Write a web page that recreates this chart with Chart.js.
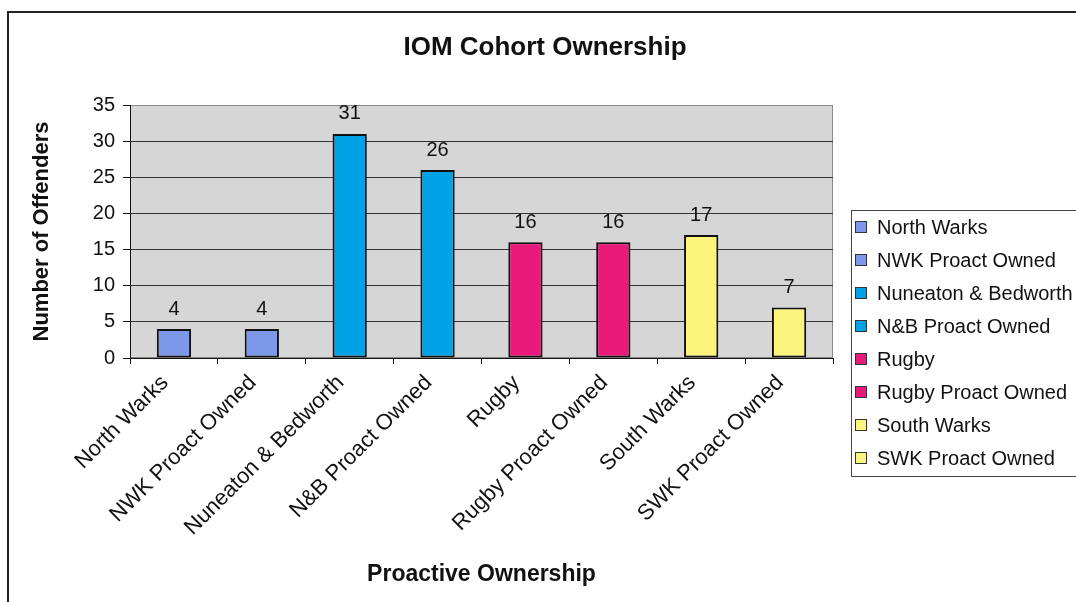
<!DOCTYPE html>
<html>
<head>
<meta charset="utf-8">
<script src="https://cdn.jsdelivr.net/npm/chart.js@4/dist/chart.umd.min.js"></script>
<style>
  html, body { margin: 0; padding: 0; background: #fff; }
  #wrap { width: 1076px; height: 602px; }
</style>
</head>
<body>
<div id="wrap"><canvas id="grafico"></canvas></div>
<script>
// ------------------------------------------------
// Dados
// ------------------------------------------------
const CATEGORIAS = [
    'North Warks', 'NWK Proact Owned', 'Nuneaton & Bedworth', 'N&B Proact Owned',
    'Rugby', 'Rugby Proact Owned', 'South Warks', 'SWK Proact Owned'
];
const VALORES = [4, 4, 31, 26, 16, 16, 17, 7];
const CORES = [
    '#7d98ea', '#7d98ea', '#00a2e6', '#00a2e6',
    '#ea1a7a', '#ea1a7a', '#fbf57e', '#fbf57e'
];
const TITULO = 'IOM Cohort Ownership';
const TITULO_Y = 'Number of Offenders';
const TITULO_X = 'Proactive Ownership';

const FONTE = "'Liberation Sans', Arial, sans-serif";

// ------------------------------------------------
// Moldura, fundo cinza e título
// ------------------------------------------------
const pluginFundo = {
    id: 'fundo',
    beforeDraw(chart) {
        const { ctx, chartArea: a } = chart;
        ctx.save();
        ctx.fillStyle = '#d6d6d6';
        ctx.fillRect(a.left, a.top, a.right - a.left, a.bottom - a.top);
        ctx.strokeStyle = '#8a8a8a';
        ctx.lineWidth = 1;
        ctx.strokeRect(a.left + 0.5, a.top + 0.5, a.right - a.left - 1, a.bottom - a.top - 1);
        // moldura externa
        ctx.strokeStyle = '#222';
        ctx.lineWidth = 2;
        ctx.beginPath();
        ctx.moveTo(8, 602);
        ctx.lineTo(8, 12);
        ctx.lineTo(1076, 12);
        ctx.stroke();
        ctx.restore();
    },
    afterDraw(chart) {
        const { ctx } = chart;
        ctx.save();
        ctx.fillStyle = '#111';
        ctx.font = `bold 26px ${FONTE}`;
        ctx.textAlign = 'center';
        ctx.textBaseline = 'middle';
        ctx.fillText(TITULO, 545, 48);
        ctx.restore();
    }
};

// ------------------------------------------------
// Valores acima das barras
// ------------------------------------------------
const pluginRotulos = {
    id: 'rotulos',
    afterDatasetsDraw(chart) {
        const { ctx } = chart;
        const meta = chart.getDatasetMeta(0);
        ctx.save();
        ctx.fillStyle = '#111';
        ctx.font = `20px ${FONTE}`;
        ctx.textAlign = 'center';
        ctx.textBaseline = 'bottom';
        meta.data.forEach((bar, i) => {
            ctx.fillText(String(VALORES[i]), bar.x, bar.y - 10);
        });
        ctx.restore();
    }
};

// ------------------------------------------------
// Legenda com caixa à direita
// ------------------------------------------------
const pluginLegenda = {
    id: 'legendaCaixa',
    afterDraw(chart) {
        const { ctx } = chart;
        ctx.save();
        ctx.strokeStyle = '#444';
        ctx.lineWidth = 1;
        ctx.strokeRect(851.5, 210.5, 240, 266);
        ctx.font = `20px ${FONTE}`;
        ctx.textAlign = 'left';
        ctx.textBaseline = 'middle';
        CATEGORIAS.forEach((nome, i) => {
            const y = 227 + i * 33;
            ctx.fillStyle = CORES[i];
            ctx.fillRect(855, y - 6, 12, 12);
            ctx.strokeStyle = '#333';
            ctx.strokeRect(855.5, y - 5.5, 11, 11);
            ctx.fillStyle = '#111';
            ctx.fillText(nome, 877, y + 1);
        });
        ctx.restore();
    }
};

new Chart(document.getElementById('grafico').getContext('2d'), {
    type: 'bar',
    data: {
        labels: CATEGORIAS,
        datasets: [{
            label: 'Offenders',
            data: VALORES,
            backgroundColor: CORES,
            borderColor: '#111',
            borderWidth: 2,
            borderSkipped: false,
            barPercentage: 0.39,
            categoryPercentage: 1
        }]
    },
    options: {
        responsive: true,
        maintainAspectRatio: false,
        animation: false,
        layout: { padding: { top: 105, right: 243, bottom: 0, left: 0 } },
        plugins: {
            legend: { display: false },
            title: { display: false },
            tooltip: { enabled: false }
        },
        scales: {
            y: {
                min: 0, max: 35,
                afterFit: s => { s.width = 130; },
                border: { color: '#111', width: 1 },
                grid: {
                    color: c => c.tick && c.tick.value === 35 ? '#8a8a8a' : '#333',
                    tickColor: '#111',
                    tickLength: 7
                },
                ticks: {
                    stepSize: 5,
                    color: '#111',
                    padding: 8,
                    font: { family: FONTE, size: 20 }
                },
                title: {
                    display: true,
                    text: TITULO_Y,
                    color: '#111',
                    padding: { top: 29, bottom: 0 },
                    font: { family: FONTE, size: 22, weight: 'bold' }
                }
            },
            x: {
                afterFit: s => { s.height = 244; },
                border: { color: '#111', width: 1 },
                grid: {
                    drawOnChartArea: false,
                    offset: true,
                    tickColor: '#111',
                    tickLength: 6
                },
                ticks: {
                    color: '#111',
                    minRotation: 45,
                    maxRotation: 45,
                    padding: 6,
                    labelOffset: -9,
                    autoSkip: false,
                    font: { family: FONTE, size: 22 }
                },
                title: {
                    display: true,
                    text: TITULO_X,
                    color: '#111',
                    padding: { top: 0, bottom: 14 },
                    font: { family: FONTE, size: 23, weight: 'bold' }
                }
            }
        }
    },
    plugins: [pluginFundo, pluginRotulos, pluginLegenda]
});
</script>
</body>
</html>
